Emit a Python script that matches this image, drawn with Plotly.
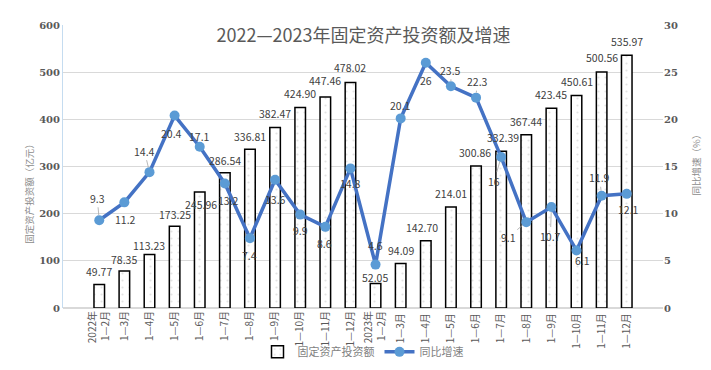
import plotly.graph_objects as go

categories = ["2022年<br>1—2月", "1—3月", "1—4月", "1—5月", "1—6月", "1—7月", "1—8月",
              "1—9月", "1—10月", "1—11月", "1—12月",
              "2023年<br>1—2月", "1—3月 ", "1—4月 ", "1—5月 ", "1—6月 ", "1—7月 ", "1—8月 ",
              "1—9月 ", "1—10月 ", "1—11月 ", "1—12月 "]
investment = [49.77, 78.35, 113.23, 173.25, 245.96, 286.54, 336.81, 382.47, 424.90, 447.46, 478.02,
              52.05, 94.09, 142.70, 214.01, 300.86, 332.39, 367.44, 423.45, 450.61, 500.56, 535.97]
investment_labels = ["49.77", "78.35", "113.23", "173.25", "245.96", "286.54", "336.81", "382.47",
                     "424.90", "447.46", "478.02", "52.05", "94.09", "142.70", "214.01", "300.86",
                     "332.39", "367.44", "423.45", "450.61", "500.56", "535.97"]
growth = [9.3, 11.2, 14.4, 20.4, 17.1, 13.2, 7.4, 13.6, 9.9, 8.6, 14.8,
          4.6, 20.1, 26, 23.5, 22.3, 16, 9.1, 10.7, 6.1, 11.9, 12.1]
growth_labels = ["9.3", "11.2", "14.4", "20.4", "17.1", "13.2", "7.4", "13.6", "9.9", "8.6", "14.8",
                 "4.6", "20.1", "26", "23.5", "22.3", "16", "9.1", "10.7", "6.1", "11.9", "12.1"]

# label pixel offsets (style)
bar_dx = [0, 0, 0, 0, 1, 0, 0, 0, 0, 0, 0, -1, 0, -4, 0, -1, 2, 0, 0, 0, 0, 0]
bar_dy = [13, 12, 9, 12, -13, 12, 13, 14, 14, 16, 15, 6, 13, 13, 14, 14, 14, 13, 14, 14, 14, 14]
g_dx = [-2, 1, -5, -3, 0, 4, 0, 0, 0, -1, 0, 0, 0, 0, 0, 1, -7, -18, -1, 6, -2, 2]
g_dy = [22, -17, 21, -18, 10, -17, -17, -20, -16, -17, -15, 19, 13, -18, 16, 16, -24, -15, -29, -10, 18, -16]
g_leader = [True, False, True, False, False, False, False, False, False, False, False,
            False, False, False, True, True, True, True, True, False, True, False]

font_cjk = "Noto Sans CJK SC"
label_color = "#404040"

fig = go.Figure()
fig.add_trace(go.Bar(
    x=categories, y=investment, name="固定资产投资额",
    marker=dict(color="white", line=dict(color="black", width=1.5),
                pattern=dict(shape=".", fgcolor="#c8c8c8", bgcolor="white", size=7, solidity=0.08)),
    width=0.42, yaxis="y",
))
fig.add_trace(go.Scatter(
    x=categories, y=growth, name="同比增速", mode="lines+markers",
    line=dict(color="#4472C4", width=3.5),
    marker=dict(color="#5B9BD5", size=10),
    yaxis="y2",
))

annotations = []
for c, v, t, dx, dy in zip(categories, investment, investment_labels, bar_dx, bar_dy):
    annotations.append(dict(x=c, y=v, xref="x", yref="y", text=t, showarrow=False,
                            xshift=dx, yshift=dy,
                            font=dict(family=font_cjk, size=10.5, color=label_color)))
for c, v, t, dx, dy, ld in zip(categories, growth, growth_labels, g_dx, g_dy, g_leader):
    if ld:
        annotations.append(dict(x=c, y=v, xref="x", yref="y2", text=t, showarrow=True,
                                ax=dx, ay=-dy, arrowhead=0, arrowwidth=0.8, arrowcolor="#a6a6a6",
                                standoff=5,
                                font=dict(family=font_cjk, size=10.5, color=label_color)))
    else:
        annotations.append(dict(x=c, y=v, xref="x", yref="y2", text=t, showarrow=False,
                                xshift=dx, yshift=dy,
                                font=dict(family=font_cjk, size=10.5, color=label_color)))

annotations.append(dict(text="固定资产投资额（亿元）", xref="paper", yref="paper", x=-0.072, y=0.414,
                        showarrow=False, textangle=-90,
                        font=dict(family=font_cjk, size=9.5, color="#8c8c8c")))
annotations.append(dict(text="同比增速（%）", xref="paper", yref="paper", x=1.07, y=0.514,
                        showarrow=False, textangle=-90,
                        font=dict(family=font_cjk, size=9.5, color="#8c8c8c")))

fig.update_layout(
    width=711, height=370,
    margin=dict(l=55, r=56, t=17, b=63),
    paper_bgcolor="white", plot_bgcolor="white",
    title=dict(text="2022—2023年固定资产投资额及增速", x=0.5, xanchor="center", y=0.925, yanchor="middle",
               font=dict(family=font_cjk, size=18, color="#595959")),
    showlegend=True,
    legend=dict(orientation="h", x=0.5, xanchor="center", y=-0.155, yanchor="middle",
                font=dict(family=font_cjk, size=11, color="#7f7f7f"), itemwidth=30,
                bgcolor="rgba(0,0,0,0)"),
    bargap=0.5,
    xaxis=dict(type="category", tickangle=-90, showgrid=False, showline=False, ticks="",
               tickfont=dict(family=font_cjk, size=10, color="#595959"), automargin=False),
    yaxis=dict(range=[0, 600], dtick=100, showgrid=True, gridcolor="#d9d9d9", gridwidth=1,
               zeroline=True, zerolinecolor="#d9d9d9", showline=True, linecolor="#c5dcf0",
               tickfont=dict(family="DejaVu Serif", size=10, color="#595959", weight="bold"),
               automargin=False),
    yaxis2=dict(range=[0, 30], dtick=5, overlaying="y", side="right", showgrid=False,
                zeroline=False, showline=False,
                tickfont=dict(family="DejaVu Serif", size=10, color="#595959", weight="bold"),
                automargin=False),
    annotations=annotations,
)

fig.write_html("out.html")
